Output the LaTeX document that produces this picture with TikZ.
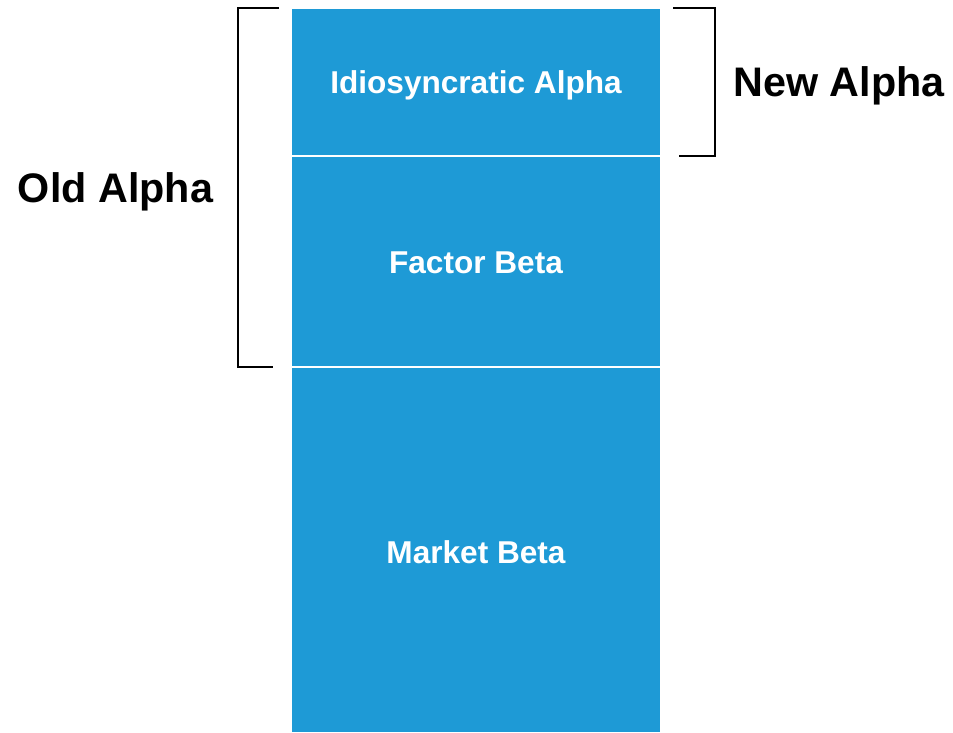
\documentclass[tikz,border=0pt]{standalone}
\usepackage{fontspec}
\setmainfont{Liberation Sans}
\definecolor{barblue}{RGB}{30,154,214}
\begin{document}
\begin{tikzpicture}[x=1pt,y=-1pt,
  segment/.style={fill=barblue,draw=none},
  seglabel/.style={anchor=base,text=white,font=\fontsize{31.6}{36}\selectfont\bfseries},
  sidelabel/.style={anchor=base,text=black,font=\fontsize{41.3}{48}\selectfont\bfseries},
  bracketline/.style={draw=black,line width=2pt}]
\useasboundingbox (0,0) rectangle (953,732);
% stacked column
\fill[segment] (292,9) rectangle (660,154.5);
\fill[segment] (292,157) rectangle (660,365.5);
\fill[segment] (292,368) rectangle (660,732);
\node[seglabel] (idio) at (476,93.3) {Idiosyncratic Alpha};
\node[seglabel] (factor) at (476,273.3) {Factor Beta};
\node[seglabel] (market) at (476,563.3) {Market Beta};
% brackets
\coordinate (oldtop) at (279,8);
\coordinate (oldbot) at (273,366.5);
\draw[bracketline] (oldtop) -- (237.5,8) -- (237.5,366.5) -- (oldbot);
\coordinate (newtop) at (673,8);
\coordinate (newbot) at (679,155.5);
\draw[bracketline] (newtop) -- (715,8) -- (715,155.5) -- (newbot);
\node[sidelabel] (old) at (115.5,202.7) {Old Alpha};
\node[sidelabel] (new) at (839,96.7) {New Alpha};
\end{tikzpicture}
\end{document}
